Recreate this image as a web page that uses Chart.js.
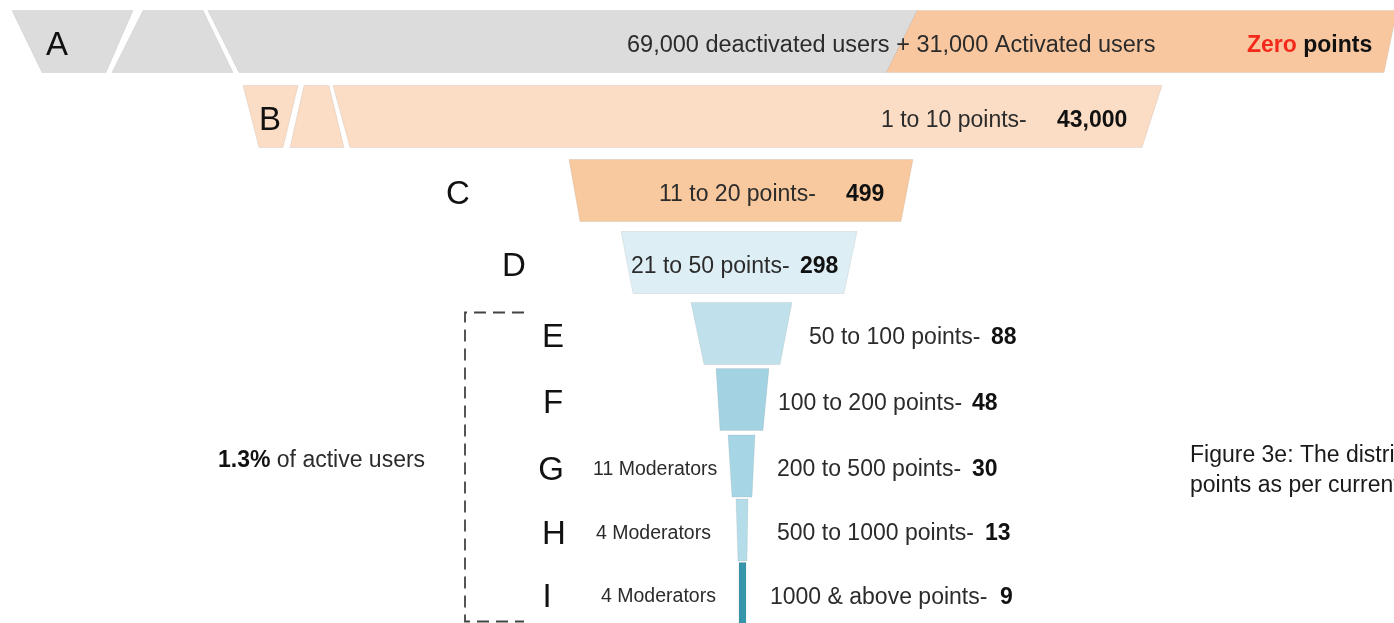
<!DOCTYPE html>
<html>
<head>
<meta charset="utf-8">
<script src="https://cdn.jsdelivr.net/npm/chart.js@4.4.1/dist/chart.umd.min.js"></script>
<style>
  html, body { margin: 0; padding: 0; background: #fff; overflow: hidden; }
  canvas { display: block; }
</style>
</head>
<body>
<canvas id="funnel" width="1394" height="623"></canvas>
<script>
// ---- data -------------------------------------------------------------
const stages = ['A', 'B', 'C', 'D', 'E', 'F', 'G', 'H', 'I'];
const pointRanges = ['', '1 to 10 points-', '11 to 20 points-', '21 to 50 points-',
  '50 to 100 points-', '100 to 200 points-', '200 to 500 points-',
  '500 to 1000 points-', '1000 & above points-'];
const userCounts = [null, 43000, 499, 298, 88, 48, 30, 13, 9];
const deactivatedUsers = 69000;
const activatedUsers = 31000;
const moderators = [null, null, null, null, null, null, 11, 4, 4];
const activeShare = '1.3%';

// funnel segment widths on the horizontal axis: [left, right] along the top and bottom edge
const bodyTop    = [[208, 917], [333, 1162], [569, 913], [621, 857], [691, 792], [716, 769], [728, 755], [736, 748], [739, 746]];
const bodyBottom = [[239, 886], [350, 1142], [580, 901], [633, 844], [704, 780], [720, 763], [732, 752], [738, 747], [739, 746]];
const activatedTop    = [[917, 1397]];
const activatedBottom = [[886, 1384]];
const outerChipTop    = [[12, 133], [243, 298]];
const outerChipBottom = [[42, 106], [259, 283]];
const innerChipTop    = [[143, 203], [304, 329]];
const innerChipBottom = [[112, 233], [290, 344]];

// ---- layout & style ---------------------------------------------------
const rowDepth = [41.5, 116.5, 190.5, 262.5, 333.5, 399.5, 466, 530, 593.5];
const bodyColors = ['#dcdcdc', '#fbdcc4', '#f8c89e', '#ddeef4', '#c0e1eb', '#a3d3e3', '#a6d6e6', '#b4dde9', '#3595ab'];
const letterX = [57, 270, 458, 514, 553, 553, 551, 554, 547];
const rangeX  = [null, 881, 659, 631, 809, 778, 777, 777, 770];
const countX  = [null, 1057, 846, 800, 991, 972, 972, 985, 1000];
const modX    = [null, null, null, null, null, null, 593, 596, 601];
const FONT = "'Liberation Sans', Arial, Helvetica, sans-serif";
const TEXT = '#2b2b2b';
const STRONG = '#111';

const fmt = v => v.toLocaleString('en-US');
const pts = (top, rows) => top.map((span, k) => ({ x: span, y: rowDepth[rows[k]] }));

function put(ctx, text, x, cy, size, weight, color, align) {
  ctx.font = `${weight} ${size}px ${FONT}`;
  ctx.fillStyle = color;
  ctx.textAlign = align || 'left';
  ctx.textBaseline = 'alphabetic';
  ctx.fillText(text, x, cy + size * 0.358);
  return ctx.measureText(text).width;
}

// draws each floating bar as a trapezoid: top edge from the bar, bottom edge from bottomEdge
const trapezoidBars = {
  id: 'trapezoidBars',
  beforeDatasetDraw(chart, args) {
    const { ctx } = chart;
    const xs = chart.scales.x;
    const ds = chart.data.datasets[args.index];
    args.meta.data.forEach((el, i) => {
      const p = el.getProps(['x', 'y', 'base', 'height'], true);
      const t0 = Math.min(p.x, p.base), t1 = Math.max(p.x, p.base);
      const b = ds.bottomEdge[i];
      const b0 = xs.getPixelForValue(b[0]), b1 = xs.getPixelForValue(b[1]);
      const yt = p.y - p.height / 2, yb = p.y + p.height / 2;
      ctx.save();
      ctx.beginPath();
      ctx.moveTo(t0, yt);
      ctx.lineTo(t1, yt);
      ctx.lineTo(b1, yb);
      ctx.lineTo(b0, yb);
      ctx.closePath();
      ctx.fillStyle = el.options.backgroundColor;
      ctx.fill();
      ctx.lineWidth = 1;
      ctx.strokeStyle = el.options.borderColor;
      ctx.stroke();
      ctx.restore();
    });
    return false;
  }
};

const funnelLabels = {
  id: 'funnelLabels',
  afterDatasetsDraw(chart) {
    const { ctx } = chart;
    const rows = chart.getDatasetMeta(0).data;
    ctx.save();
    rows.forEach((el, i) => {
      const y = el.y + 2;
      put(ctx, stages[i], letterX[i], y, 33, 'normal', STRONG, 'center');
      if (i === 0) {
        put(ctx, `${fmt(deactivatedUsers)} deactivated users + ${fmt(activatedUsers)} Activated users`,
            627, y, 23.5, 'normal', TEXT);
        const w = put(ctx, 'Zero', 1247, y, 23, 'bold', '#f32a1b');
        put(ctx, ' points', 1247 + w, y, 23, 'bold', STRONG);
        return;
      }
      put(ctx, pointRanges[i], rangeX[i], y, 23, 'normal', TEXT);
      put(ctx, fmt(userCounts[i]), countX[i], y, 23, 'bold', STRONG);
      if (moderators[i] != null) {
        put(ctx, `${moderators[i]} Moderators`, modX[i], y, 19.5, 'normal', TEXT);
      }
    });

    // bracket around the top-point stages
    const top = rows[4].y - 21, bottom = rows[8].y + 28;
    ctx.strokeStyle = '#444';
    ctx.lineWidth = 1.8;
    ctx.setLineDash([12, 7]);
    ctx.beginPath();
    ctx.moveTo(524, top); ctx.lineTo(465, top); ctx.lineTo(465, bottom); ctx.lineTo(524, bottom);
    ctx.stroke();
    ctx.setLineDash([]);

    const w = put(ctx, activeShare, 218, 459, 23, 'bold', STRONG);
    put(ctx, ' of active users', 218 + w, 459, 23, 'normal', TEXT);

    put(ctx, 'Figure 3e: The distribution', 1190, 453.5, 23, 'normal', '#1a1a1a');
    put(ctx, 'points as per current', 1190, 483.5, 23, 'normal', '#1a1a1a');
    ctx.restore();
  }
};

new Chart(document.getElementById('funnel'), {
  type: 'bar',
  data: {
    datasets: [
      { label: 'Stage', data: pts(bodyTop, [0, 1, 2, 3, 4, 5, 6, 7, 8]), bottomEdge: bodyBottom,
        backgroundColor: bodyColors, borderColor: 'rgba(110,110,110,0.12)' },
      { label: 'Activated users', data: pts(activatedTop, [0]), bottomEdge: activatedBottom,
        backgroundColor: '#f9c79f', borderColor: 'rgba(110,110,110,0.12)' },
      { label: 'Outer chip', data: pts(outerChipTop, [0, 1]), bottomEdge: outerChipBottom,
        backgroundColor: ['#dcdcdc', '#fbdcc4'], borderColor: 'rgba(110,110,110,0.12)' },
      { label: 'Inner chip', data: pts(innerChipTop, [0, 1]), bottomEdge: innerChipBottom,
        backgroundColor: ['#dcdcdc', '#fbdcc4'], borderColor: 'rgba(110,110,110,0.12)' }
    ]
  },
  options: {
    indexAxis: 'y',
    responsive: false,
    animation: false,
    events: [],
    devicePixelRatio: 1,
    layout: { padding: 0 },
    datasets: { bar: { grouped: false, barThickness: 62, borderWidth: 0 } },
    plugins: { legend: { display: false }, tooltip: { enabled: false } },
    scales: {
      x: { type: 'linear', min: 0, max: 1394, offset: false, display: false },
      y: { type: 'linear', min: 0, max: 623, reverse: true, offset: false, display: false }
    }
  },
  plugins: [trapezoidBars, funnelLabels]
});
</script>
</body>
</html>
